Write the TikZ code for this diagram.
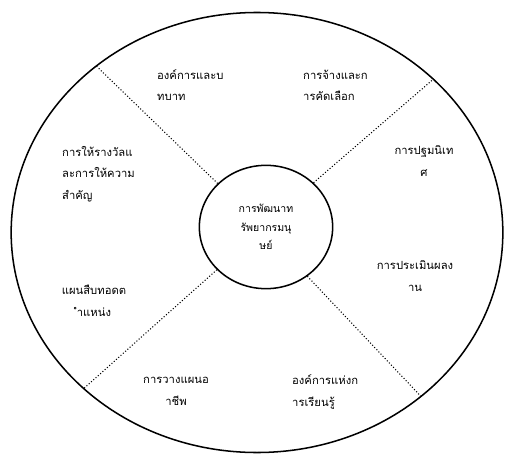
\documentclass[tikz,border=0pt]{standalone}
\usepackage{fontspec}
\newfontfamily\thaifont[Script=Thai]{Loma}
\usetikzlibrary{shapes.geometric}
\begin{document}
\begin{tikzpicture}[x=0.03cm, y=-0.03cm, line join=round,
    rim/.style={ellipse, draw, line width=1.3pt, inner sep=0pt, minimum width=14.75cm, minimum height=13.2cm},
    hub/.style={ellipse, draw, line width=1.3pt, inner sep=0pt, minimum width=4cm, minimum height=3.7cm,
      align=center, font=\thaifont\fontsize{9}{16}\selectfont},
    divider/.style={line width=0.9pt, dash pattern=on 0.9pt off 1.7pt},
    txt/.style={font=\thaifont\fontsize{9.6}{18}\selectfont, inner sep=0pt},
    txtl/.style={txt, align=left, anchor=base west},
    txtc/.style={txt, align=center, anchor=base}]
  \useasboundingbox (0,0) rectangle (505,454);
  % วงนอกและวงกลาง
  \node[rim] (rim) at (257,232.5) {};
  \node[hub] (hub) at (266,227) {การพัฒนาท\\รัพยากรมนุ\\ษย์};
  % เส้นแบ่ง
  \draw[divider] (hub.138.7) -- (rim.134);
  \draw[divider] (hub.43.2) -- (rim.41.9);
  \draw[divider] (hub.221.3) -- (rim.222.6);
  \draw[divider] (hub.310.6) -- (rim.315.7);
  % ข้อความ (จุดอ้างอิงคือเส้นฐานของบรรทัดสุดท้าย)
  \node[txtl] (role) at (157,101) {องค์การและบ\\ทบาท};
  \node[txtl] (hire) at (303,101) {การจ้างและก\\ารคัดเลือก};
  \node[txtl] (reward) at (62,199) {การให้รางวัลแ\\ละการให้ความ\\สำคัญ};
  \node[txtc] (orient) at (424,176) {การปฐมนิเท\\ศ};
  \node[txtc] (appraise) at (415,291) {การประเมินผลง\\าน};
  \node[txtc] (succ) at (94,316) {แผนสืบทอดต\\ำแหน่ง};
  \node[txtc] (career) at (176,405) {การวางแผนอ\\าชีพ};
  \node[txtl] (learn) at (292,406) {องค์การแห่งก\\ารเรียนรู้};
\end{tikzpicture}
\end{document}
